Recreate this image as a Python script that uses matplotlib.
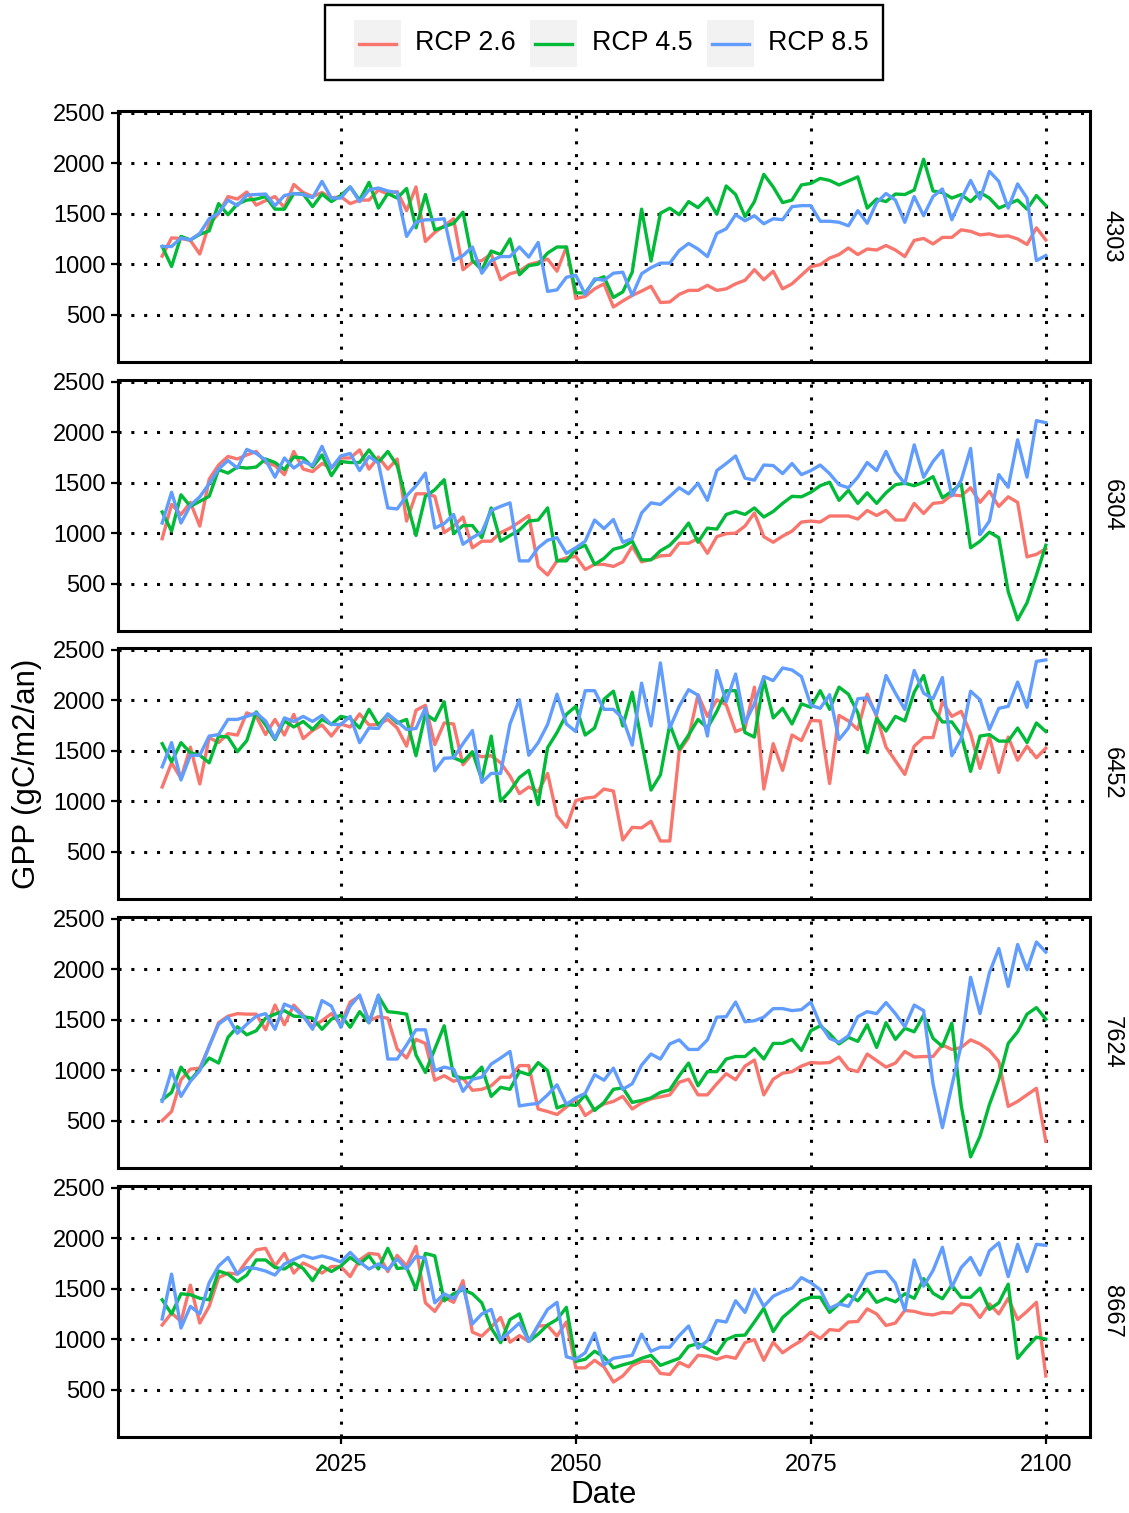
import numpy as np
import matplotlib
matplotlib.use("Agg")
import matplotlib.pyplot as plt
from matplotlib.patches import Rectangle

plt.rcParams['font.family'] = ['Liberation Sans', 'DejaVu Sans']

years = np.arange(2006, 2101)
sites = ["4303", "6304", "6452", "7624", "8667"]
scenarios = ["RCP 2.6", "RCP 4.5", "RCP 8.5"]
colors = ["#F8766D", "#00BA38", "#619CFF"]
x_breaks = [2025, 2050, 2075, 2100]
y_breaks = [500, 1000, 1500, 2000, 2500]

# annual GPP (gC/m2/an), 2006-2100, one list per site and scenario
gpp_4303_rcp26 = [1080, 1260, 1255, 1235, 1100, 1400, 1500, 1670, 1645, 1715,
                  1585, 1630, 1670, 1560, 1790, 1710, 1670, 1710, 1655, 1670,
                  1600, 1635, 1635, 1735, 1695, 1720, 1530, 1765, 1225, 1315,
                  1380, 1450, 945, 1020, 1035, 1100, 845, 905, 930, 995,
                  1020, 1050, 930, 1170, 660, 680, 755, 805, 575, 635,
                  690, 733, 780, 620, 625, 700, 740, 740, 790, 740,
                  755, 805, 840, 945, 845, 930, 755, 805, 890, 975,
                  995, 1060, 1095, 1160, 1095, 1150, 1140, 1185, 1140, 1075,
                  1235, 1255, 1200, 1265, 1265, 1340, 1325, 1290, 1300, 1275,
                  1280, 1250, 1195, 1360, 1240]
gpp_4303_rcp45 = [1175, 977, 1275, 1240, 1295, 1330, 1600, 1490, 1595, 1635,
                  1645, 1670, 1545, 1545, 1700, 1695, 1570, 1695, 1620, 1680,
                  1765, 1635, 1810, 1555, 1700, 1655, 1750, 1360, 1690, 1340,
                  1370, 1405, 1515, 1035, 945, 1130, 1095, 1250, 895, 985,
                  1000, 1110, 1170, 1170, 715, 715, 840, 875, 670, 725,
                  920, 1545, 1030, 1505, 1555, 1490, 1620, 1560, 1655, 1495,
                  1775, 1690, 1470, 1620, 1890, 1765, 1610, 1635, 1785, 1800,
                  1850, 1830, 1785, 1825, 1865, 1555, 1645, 1620, 1695, 1690,
                  1735, 2040, 1725, 1710, 1655, 1690, 1620, 1710, 1655, 1555,
                  1595, 1635, 1545, 1680, 1580]
gpp_4303_rcp85 = [1175, 1175, 1260, 1240, 1305, 1450, 1505, 1635, 1580, 1685,
                  1690, 1695, 1580, 1680, 1700, 1690, 1660, 1820, 1655, 1655,
                  1765, 1620, 1735, 1755, 1725, 1710, 1275, 1415, 1440, 1440,
                  1450, 1035, 1085, 1170, 910, 1035, 1075, 1075, 1170, 1070,
                  1215, 730, 745, 870, 890, 700, 855, 840, 910, 920,
                  690, 905, 965, 1010, 1010, 1135, 1205, 1150, 1075, 1305,
                  1350, 1490, 1430, 1480, 1400, 1450, 1440, 1570, 1580, 1580,
                  1425, 1425, 1415, 1380, 1530, 1405, 1610, 1700, 1635, 1415,
                  1670, 1480, 1670, 1745, 1440, 1645, 1830, 1645, 1920, 1820,
                  1555, 1795, 1655, 1035, 1085]

gpp_6304_rcp26 = [945, 1285, 1185, 1305, 1070, 1535, 1675, 1760, 1735, 1775,
                  1810, 1700, 1670, 1580, 1810, 1635, 1610, 1690, 1645, 1745,
                  1745, 1825, 1635, 1755, 1635, 1735, 1120, 1390, 1390, 1365,
                  1005, 1070, 1160, 855, 920, 920, 1005, 1050, 1110, 1175,
                  670, 585, 725, 755, 770, 640, 690, 690, 670, 715,
                  870, 715, 740, 775, 780, 900, 900, 945, 800, 965,
                  995, 1000, 1070, 1200, 965, 910, 970, 1020, 1110, 1120,
                  1110, 1170, 1170, 1170, 1140, 1225, 1175, 1225, 1130, 1130,
                  1295, 1195, 1295, 1305, 1380, 1370, 1450, 1305, 1415, 1265,
                  1360, 1305, 765, 790, 845]
gpp_6304_rcp45 = [1210, 1020, 1380, 1265, 1315, 1365, 1630, 1595, 1655, 1645,
                  1655, 1735, 1700, 1630, 1755, 1745, 1655, 1775, 1570, 1710,
                  1700, 1700, 1825, 1700, 1810, 1670, 1315, 977, 1365, 1430,
                  1530, 995, 1075, 1075, 955, 1250, 920, 977, 1030, 1120,
                  1130, 1250, 725, 725, 840, 880, 690, 750, 840, 865,
                  920, 735, 735, 825, 880, 977, 1100, 910, 1050, 1040,
                  1185, 1215, 1185, 1250, 1160, 1215, 1295, 1365, 1360, 1405,
                  1470, 1505, 1325, 1425, 1295, 1400, 1295, 1400, 1480, 1495,
                  1470, 1505, 1560, 1350, 1415, 1490, 855, 920, 1010, 955,
                  420, 140, 310, 585, 880]
gpp_6304_rcp85 = [1100, 1405, 1100, 1275, 1360, 1490, 1635, 1720, 1645, 1830,
                  1790, 1725, 1555, 1745, 1645, 1710, 1670, 1860, 1645, 1765,
                  1790, 1620, 1760, 1695, 1250, 1240, 1370, 1470, 1595, 1050,
                  1095, 1185, 890, 955, 1010, 1225, 1265, 1300, 725, 725,
                  855, 930, 955, 800, 855, 920, 1130, 1045, 1135, 910,
                  945, 1200, 1300, 1285, 1365, 1450, 1390, 1495, 1325, 1620,
                  1690, 1765, 1545, 1525, 1675, 1670, 1590, 1690, 1580, 1620,
                  1675, 1590, 1480, 1450, 1555, 1700, 1620, 1810, 1610, 1490,
                  1875, 1555, 1710, 1820, 1370, 1525, 1840, 985, 1120, 1580,
                  1455, 1925, 1555, 2115, 2095]

gpp_6452_rcp26 = [1140, 1380, 1225, 1535, 1170, 1630, 1580, 1670, 1655, 1875,
                  1840, 1660, 1810, 1655, 1860, 1620, 1700, 1755, 1645, 1765,
                  1735, 1865, 1755, 1760, 1810, 1725, 1545, 1900, 1950, 1560,
                  1775, 1765, 1360, 1470, 1440, 1450, 1380, 1250, 1075, 1140,
                  1095, 1275, 855, 740, 1005, 1030, 1040, 1120, 1100, 615,
                  740, 735, 800, 605, 605, 1495, 1630, 2055, 1840, 2005,
                  1955, 1690, 1725, 2130, 1120, 1570, 1305, 1655, 1600, 1800,
                  1795, 1175, 1850, 1795, 1710, 2060, 1840, 1535, 1400, 1265,
                  1545, 1630, 1630, 1985, 1840, 1890, 1670, 1325, 1635, 1285,
                  1635, 1405, 1545, 1430, 1525]
gpp_6452_rcp45 = [1570, 1390, 1580, 1480, 1455, 1380, 1645, 1635, 1490, 1600,
                  1885, 1755, 1610, 1795, 1735, 1790, 1710, 1810, 1760, 1840,
                  1820, 1725, 1910, 1755, 1860, 1775, 1810, 1450, 1865, 1800,
                  1985, 1430, 1390, 1490, 1215, 1645, 1000, 1100, 1235, 1305,
                  965, 1530, 1680, 1860, 1940, 1655, 1725, 2010, 2090, 1745,
                  2080, 1590, 1110, 1260, 1760, 1515, 1655, 1810, 1725, 1890,
                  2095, 2095, 1680, 1635, 2205, 1825, 1920, 1765, 1965, 1930,
                  2095, 1910, 2130, 2060, 1875, 1480, 1820, 1695, 1840, 1795,
                  2080, 2245, 1910, 1785, 1785, 1655, 1295, 1645, 1660, 1595,
                  1595, 1725, 1580, 1775, 1690]
gpp_6452_rcp85 = [1340, 1580, 1210, 1455, 1455, 1645, 1660, 1810, 1810, 1840,
                  1875, 1795, 1620, 1825, 1790, 1840, 1790, 1850, 1760, 1760,
                  1840, 1580, 1725, 1720, 1865, 1790, 1710, 1720, 1925, 1300,
                  1425, 1430, 1570, 1700, 1185, 1275, 1275, 1765, 2005, 1455,
                  1580, 1760, 2060, 1765, 1690, 2095, 2095, 1910, 1910, 1820,
                  1555, 2170, 1745, 2370, 1725, 1940, 2105, 2050, 1645, 2295,
                  1985, 2260, 1775, 1965, 2235, 2195, 2320, 2300, 2235, 1950,
                  1920, 2055, 1610, 1725, 2015, 2025, 1860, 2245, 2070, 1910,
                  2295, 2070, 2015, 2225, 1450, 1620, 2090, 2005, 1710, 1920,
                  1940, 2180, 1930, 2385, 2400]

gpp_7624_rcp26 = [500, 590, 905, 1010, 1020, 1235, 1470, 1535, 1560, 1555,
                  1555, 1400, 1645, 1450, 1645, 1545, 1430, 1490, 1560, 1450,
                  1675, 1735, 1490, 1530, 1515, 1210, 1120, 1305, 1265, 900,
                  945, 890, 920, 800, 810, 845, 930, 930, 1045, 1045,
                  615, 590, 560, 635, 715, 550, 615, 665, 690, 740,
                  615, 675, 715, 735, 755, 880, 910, 755, 755, 865,
                  965, 905, 1040, 1100, 755, 910, 970, 985, 1040, 1075,
                  1070, 1075, 1130, 1010, 985, 1160, 1095, 1030, 1070, 1185,
                  1130, 1135, 1135, 1250, 1205, 1225, 1300, 1260, 1195, 1085,
                  640, 690, 755, 820, 295]
gpp_7624_rcp45 = [705, 780, 1030, 900, 1010, 1120, 1070, 1325, 1430, 1350,
                  1390, 1515, 1555, 1590, 1535, 1530, 1515, 1405, 1505, 1545,
                  1425, 1580, 1470, 1735, 1580, 1570, 1555, 1150, 977, 1210,
                  1440, 945, 920, 930, 1030, 740, 830, 810, 985, 955,
                  1075, 995, 625, 660, 650, 755, 600, 680, 810, 825,
                  680, 700, 725, 780, 805, 945, 1070, 845, 985, 985,
                  1110, 1135, 1135, 1215, 1110, 1265, 1265, 1305, 1195, 1390,
                  1440, 1360, 1260, 1325, 1285, 1450, 1225, 1470, 1305, 1415,
                  1380, 1545, 1315, 1235, 1465, 650, 140, 345, 660, 910,
                  1265, 1380, 1555, 1620, 1505]
gpp_7624_rcp85 = [690, 995, 740, 890, 995, 1240, 1455, 1525, 1365, 1455,
                  1535, 1560, 1405, 1655, 1615, 1535, 1405, 1690, 1635, 1425,
                  1635, 1745, 1470, 1745, 1110, 1110, 1250, 1400, 1400, 995,
                  1030, 1010, 790, 910, 930, 1060, 1120, 1185, 645, 660,
                  670, 755, 855, 660, 725, 770, 955, 900, 1020, 810,
                  865, 1050, 1160, 1110, 1260, 1300, 1205, 1205, 1300, 1525,
                  1530, 1675, 1480, 1490, 1525, 1610, 1610, 1590, 1600, 1675,
                  1455, 1315, 1275, 1340, 1530, 1580, 1560, 1670, 1560, 1430,
                  1645, 1590, 865, 430, 845, 1250, 1920, 1560, 1965, 2205,
                  1830, 2245, 1995, 2270, 2170]

gpp_8667_rcp26 = [1140, 1260, 1175, 1535, 1160, 1325, 1610, 1655, 1645, 1775,
                  1885, 1900, 1725, 1850, 1655, 1755, 1710, 1655, 1720, 1720,
                  1620, 1785, 1850, 1840, 1670, 1830, 1725, 1920, 1360, 1275,
                  1415, 1365, 1580, 1070, 1030, 1120, 1215, 970, 1035, 977,
                  1130, 1135, 1030, 1170, 715, 715, 790, 725, 575, 635,
                  740, 780, 780, 660, 650, 770, 725, 840, 830, 800,
                  830, 810, 965, 995, 790, 970, 865, 930, 985, 1070,
                  1005, 1095, 1085, 1170, 1175, 1300, 1250, 1135, 1160, 1285,
                  1275, 1250, 1240, 1265, 1260, 1350, 1335, 1215, 1350, 1250,
                  1405, 1195, 1275, 1365, 635]
gpp_8667_rcp45 = [1390, 1250, 1450, 1440, 1405, 1390, 1675, 1645, 1570, 1635,
                  1785, 1785, 1710, 1695, 1755, 1700, 1580, 1725, 1670, 1725,
                  1810, 1745, 1825, 1695, 1900, 1700, 1710, 1495, 1850, 1825,
                  1380, 1450, 1490, 1450, 1360, 1110, 965, 1195, 1250, 977,
                  1050, 1140, 1195, 1315, 780, 800, 880, 825, 715, 745,
                  770, 810, 840, 740, 775, 810, 930, 955, 905, 855,
                  995, 1035, 1040, 1170, 1305, 1075, 1215, 1295, 1380, 1415,
                  1415, 1265, 1350, 1440, 1380, 1495, 1365, 1405, 1370, 1450,
                  1405, 1600, 1455, 1400, 1535, 1415, 1415, 1505, 1295, 1360,
                  1545, 810, 920, 1020, 1000]
gpp_8667_rcp85 = [1200, 1645, 1110, 1325, 1250, 1560, 1725, 1810, 1645, 1710,
                  1700, 1675, 1635, 1745, 1790, 1830, 1800, 1825, 1800, 1765,
                  1860, 1765, 1695, 1745, 1690, 1795, 1695, 1820, 1800, 1360,
                  1450, 1400, 1525, 1150, 1250, 1295, 995, 1075, 1160, 977,
                  1140, 1295, 1365, 825, 800, 865, 1060, 745, 810, 825,
                  840, 1050, 880, 920, 920, 1035, 1130, 910, 985, 1185,
                  1170, 1380, 1265, 1495, 1325, 1425, 1470, 1505, 1610, 1560,
                  1490, 1305, 1350, 1325, 1480, 1645, 1670, 1670, 1555, 1285,
                  1785, 1525, 1680, 1910, 1515, 1710, 1810, 1635, 1875, 1955,
                  1620, 1940, 1670, 1940, 1930]

gpp = {
    "4303": [gpp_4303_rcp26, gpp_4303_rcp45, gpp_4303_rcp85],
    "6304": [gpp_6304_rcp26, gpp_6304_rcp45, gpp_6304_rcp85],
    "6452": [gpp_6452_rcp26, gpp_6452_rcp45, gpp_6452_rcp85],
    "7624": [gpp_7624_rcp26, gpp_7624_rcp45, gpp_7624_rcp85],
    "8667": [gpp_8667_rcp26, gpp_8667_rcp45, gpp_8667_rcp85],
}

W, H = 1129, 1513
fig = plt.figure(figsize=(W / 100, H / 100), dpi=100)

# panel layout in pixels
panel_tops = [111, 380, 648, 917, 1186]
panel_h = 251
left, right = 118, 1090
dots = (0, (1, 3.2))

for i, site in enumerate(sites):
    ax = fig.add_axes([left / W, 1 - (panel_tops[i] + panel_h) / H,
                       (right - left) / W, panel_h / H])
    for vals, c, lab in zip(gpp[site], colors, scenarios):
        ax.plot(years, vals, color=c, lw=2.4, label=lab,
                solid_joinstyle='round', zorder=3)

    ax.set_xlim(2001.3, 2104.7)
    ax.set_ylim(30, 2518)
    ax.set_xticks(x_breaks)
    ax.set_yticks(y_breaks)
    ax.grid(True, color='black', linestyle=dots, linewidth=2.2, zorder=1)
    ax.set_axisbelow(True)
    for sp in ax.spines.values():
        sp.set_linewidth(2.2)
        sp.set_color('black')
        sp.set_zorder(5)

    ax.tick_params(axis='y', direction='out', length=5, width=1.6,
                   labelsize=17, pad=4, colors='black')
    if i < len(sites) - 1:
        ax.tick_params(axis='x', length=0, labelbottom=False)
    else:
        ax.tick_params(axis='x', direction='out', length=5, width=1.6,
                       labelsize=17, pad=7, colors='black')

    # facet strip on the right
    fig.text(1112 / W, 1 - (panel_tops[i] + panel_h / 2) / H, site,
             rotation=270, ha='center', va='center', fontsize=17)

fig.text(27 / W, 1 - 774 / H, "GPP (gC/m2/an)", rotation=90,
         ha='center', va='center', fontsize=22.5)
fig.text(604 / W, 1 - 1495 / H, "Date", ha='center', va='center',
         fontsize=22.5)

# legend drawn in pixel coordinates on top of the figure
lg = fig.add_axes([0, 0, 1, 1])
lg.set_xlim(0, W)
lg.set_ylim(H, 0)
lg.axis('off')
lg.add_patch(Rectangle((325, 5), 558, 75, fill=False, edgecolor='black',
                       linewidth=1.7))
key_x = [354, 530, 707]
text_x = [415, 592, 768]
for kx, tx, c, lab in zip(key_x, text_x, colors, scenarios):
    lg.add_patch(Rectangle((kx, 20), 47, 47, facecolor='#F2F2F2',
                           edgecolor='none'))
    lg.plot([kx + 5, kx + 42], [43.5, 43.5], color=c, lw=2.4)
    lg.text(tx, 43.5, lab, ha='left', va='center', fontsize=19.3)

fig.savefig("out.png", dpi=100)
